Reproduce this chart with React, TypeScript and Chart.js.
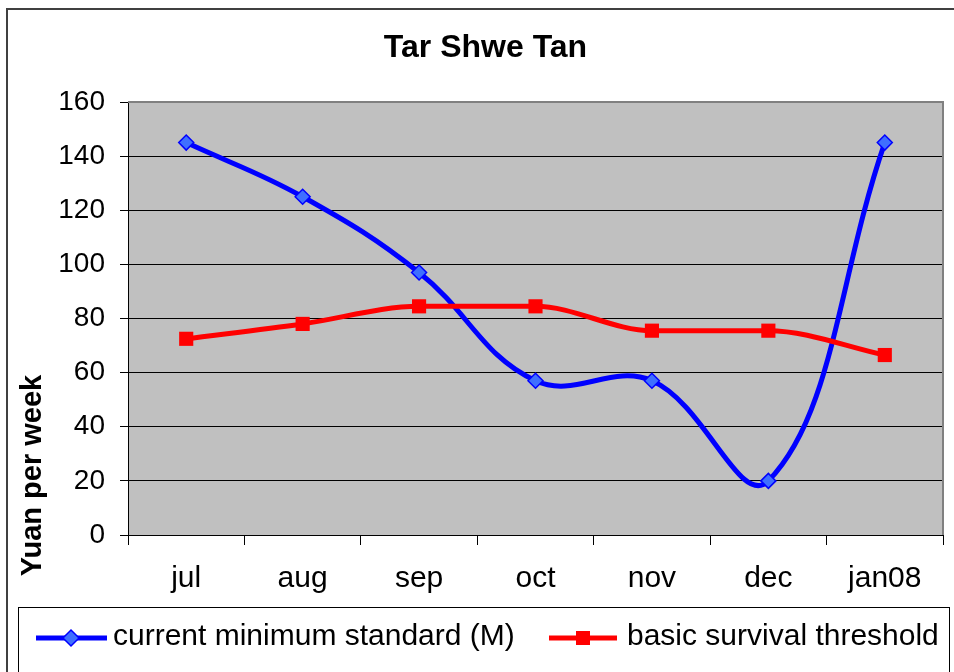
import React, { useEffect, useRef } from "react";
import { Chart, registerables } from "chart.js";

Chart.register(...registerables);

const chartTitle = "Tar Shwe Tan";
const yAxisTitle = "Yuan per week";
const months = ["jul", "aug", "sep", "oct", "nov", "dec", "jan08"];
const currentMinimum = [145, 125, 97, 57, 57, 20, 145];
const survivalThreshold = [72.5, 78, 84.5, 84.5, 75.5, 75.5, 66.5];
const seriesNames = ["current minimum standard (M)", "basic survival threshold"];
const yMin = 0;
const yMax = 160;
const yStep = 20;

const FONT = "'Liberation Sans', Arial, Helvetica, sans-serif";
const BLUE = "#0000FF";
const BLUE_FILL = "#3F6FFF";
const RED = "#FF0000";

function drawDiamond(ctx: CanvasRenderingContext2D, x: number, y: number, r: number) {
  ctx.beginPath();
  ctx.moveTo(x, y - r);
  ctx.lineTo(x + r, y);
  ctx.lineTo(x, y + r);
  ctx.lineTo(x - r, y);
  ctx.closePath();
  ctx.fillStyle = BLUE_FILL;
  ctx.fill();
  ctx.lineWidth = 1.5;
  ctx.strokeStyle = BLUE;
  ctx.stroke();
}

const decorPlugin = {
  id: "decor",
  beforeDraw(chart: any) {
    const { ctx, chartArea } = chart;
    ctx.save();
    ctx.fillStyle = "#FFFFFF";
    ctx.fillRect(0, 0, chart.width, chart.height);
    // outer frame
    ctx.strokeStyle = "#404040";
    ctx.lineWidth = 2;
    ctx.strokeRect(7, 9, 1000, 1000);
    // plot background
    ctx.fillStyle = "#C0C0C0";
    ctx.fillRect(chartArea.left, chartArea.top, chartArea.right - chartArea.left, chartArea.bottom - chartArea.top);
    ctx.restore();
  },
  beforeDatasetsDraw(chart: any) {
    const { ctx, chartArea } = chart;
    ctx.save();
    ctx.strokeStyle = "#808080";
    ctx.lineWidth = 2;
    ctx.beginPath();
    ctx.moveTo(chartArea.left, chartArea.top);
    ctx.lineTo(chartArea.right, chartArea.top);
    ctx.lineTo(chartArea.right, chartArea.bottom);
    ctx.stroke();
    ctx.restore();
  },
  afterDraw(chart: any) {
    const { ctx } = chart;
    ctx.save();
    // title
    ctx.fillStyle = "#000";
    ctx.font = `bold 32px ${FONT}`;
    ctx.textAlign = "center";
    ctx.textBaseline = "alphabetic";
    ctx.fillText(chartTitle, 485.5, 57);
    // y axis title
    ctx.save();
    ctx.translate(41, 475.5);
    ctx.rotate(-Math.PI / 2);
    ctx.font = `bold 29px ${FONT}`;
    ctx.fillText(yAxisTitle, 0, 0);
    ctx.restore();
    // legend box
    ctx.strokeStyle = "#000";
    ctx.lineWidth = 1;
    ctx.strokeRect(18.5, 607.5, 931, 100);
    // legend items
    const ly = 638;
    ctx.lineWidth = 5;
    ctx.strokeStyle = BLUE;
    ctx.beginPath();
    ctx.moveTo(36, ly);
    ctx.lineTo(107, ly);
    ctx.stroke();
    drawDiamond(ctx, 71, ly, 8);
    ctx.strokeStyle = RED;
    ctx.lineWidth = 5;
    ctx.beginPath();
    ctx.moveTo(549, ly);
    ctx.lineTo(617, ly);
    ctx.stroke();
    ctx.fillStyle = RED;
    ctx.fillRect(583 - 7, ly - 7, 14, 14);
    ctx.fillStyle = "#000";
    ctx.font = `30px ${FONT}`;
    ctx.textAlign = "left";
    ctx.textBaseline = "alphabetic";
    ctx.fillText(seriesNames[0], 113, 645);
    ctx.fillText(seriesNames[1], 627, 645);
    ctx.restore();
  },
};

export default function App() {
  const canvasRef = useRef<HTMLCanvasElement | null>(null);

  useEffect(() => {
    if (!canvasRef.current) return;
    const chart = new Chart(canvasRef.current, {
      type: "line",
      data: {
        labels: months,
        datasets: [
          {
            label: seriesNames[0],
            data: currentMinimum,
            borderColor: BLUE,
            backgroundColor: BLUE_FILL,
            borderWidth: 5,
            tension: 0.4,
            pointStyle: "rectRot",
            pointRadius: 7.5,
            pointBackgroundColor: BLUE_FILL,
            pointBorderColor: BLUE,
            pointBorderWidth: 1.5,
            order: 2,
          },
          {
            label: seriesNames[1],
            data: survivalThreshold,
            borderColor: RED,
            backgroundColor: RED,
            borderWidth: 5,
            cubicInterpolationMode: "monotone",
            tension: 0.4,
            pointStyle: "rect",
            pointRadius: 10,
            pointBackgroundColor: RED,
            pointBorderColor: RED,
            pointBorderWidth: 0,
            order: 1,
          },
        ],
      },
      options: {
        animation: false,
        responsive: false,
        maintainAspectRatio: false,
        devicePixelRatio: 1,
        layout: { padding: { top: 102, right: 11, bottom: 75, left: 0 } },
        plugins: {
          legend: { display: false },
          title: { display: false },
          tooltip: { enabled: false },
        },
        scales: {
          x: {
            offset: true,
            afterFit: (scale: any) => {
              scale.height = 62;
            },
            grid: {
              offset: true,
              drawOnChartArea: false,
              drawTicks: true,
              tickLength: 10,
              color: "#000",
              tickColor: "#000",
            },
            border: { color: "#000", width: 1 },
            ticks: {
              color: "#000",
              font: { family: FONT, size: 30 },
              padding: 16,
              maxRotation: 0,
            },
          },
          y: {
            min: yMin,
            max: yMax,
            afterFit: (scale: any) => {
              scale.width = 128;
            },
            grid: {
              color: (c: any) => (c.tick && c.tick.value === yMax ? "#808080" : "#000"),
              tickColor: "#000",
              tickLength: 8,
              lineWidth: 1,
            },
            border: { color: "#000", width: 1 },
            ticks: {
              stepSize: yStep,
              color: "#000",
              font: { family: FONT, size: 28 },
              padding: 15,
            },
          },
        },
      },
      plugins: [decorPlugin],
    });
    return () => chart.destroy();
  }, []);

  return (
    <div style={{ position: "absolute", left: 0, top: 0, width: 954, height: 672 }}>
      <canvas ref={canvasRef} width={954} height={672} style={{ width: 954, height: 672 }} />
    </div>
  );
}
